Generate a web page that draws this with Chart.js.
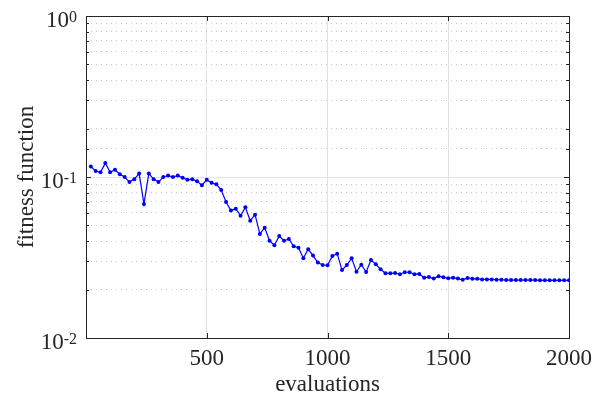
<!DOCTYPE html>
<html>
<head>
<meta charset="utf-8">
<script src="https://cdn.jsdelivr.net/npm/chart.js@4.4.1/dist/chart.umd.min.js"></script>
<style>
  html, body { margin: 0; padding: 0; background: #fff; }
  #wrap { width: 603px; height: 402px; }
</style>
</head>
<body>
<div id="wrap"><canvas id="fitChart" width="603" height="402"></canvas></div>
<script>
// x values of the samples
const evaluations = [
  20, 40, 60, 80, 100, 120, 140, 160, 180, 200,
  220, 240, 260, 280, 300, 320, 340, 360, 380, 400,
  420, 440, 460, 480, 500, 520, 540, 560, 580, 600,
  620, 640, 660, 680, 700, 720, 740, 760, 780, 800,
  820, 840, 860, 880, 900, 920, 940, 960, 980, 1000,
  1020, 1040, 1060, 1080, 1100, 1120, 1140, 1160, 1180, 1200,
  1220, 1240, 1260, 1280, 1300, 1320, 1340, 1360, 1380, 1400,
  1420, 1440, 1460, 1480, 1500, 1520, 1540, 1560, 1580, 1600,
  1620, 1640, 1660, 1680, 1700, 1720, 1740, 1760, 1780, 1800,
  1820, 1840, 1860, 1880, 1900, 1920, 1940, 1960, 1980, 2000
];

// fitness function value
const fitness = [
  0.116, 0.109, 0.107, 0.122, 0.107, 0.111, 0.104, 0.100, 0.093, 0.097,
  0.105, 0.068, 0.105, 0.097, 0.093, 0.100, 0.102, 0.100, 0.102, 0.099,
  0.096, 0.097, 0.094, 0.089, 0.096, 0.092, 0.090, 0.083, 0.070, 0.062,
  0.0636, 0.0575, 0.0648, 0.0535, 0.0583, 0.0443, 0.0484, 0.0402, 0.0377, 0.0430,
  0.0402, 0.0412, 0.0371, 0.0364, 0.0313, 0.0356, 0.0325, 0.0294, 0.0284, 0.0283,
  0.0323, 0.0334, 0.0264, 0.0284, 0.0313, 0.0258, 0.0285, 0.0257, 0.0305, 0.0287,
  0.0267, 0.0252, 0.0252, 0.0253, 0.0249, 0.0256, 0.0256, 0.0249, 0.0250, 0.0237,
  0.0239, 0.0234, 0.0242, 0.0238, 0.0235, 0.0237, 0.0234, 0.0230, 0.0236, 0.0233,
  0.0233, 0.0231, 0.0231, 0.0231, 0.0230, 0.0230, 0.0229, 0.0229, 0.0229, 0.0229,
  0.0229, 0.0229, 0.0229, 0.0228, 0.0228, 0.0228, 0.0228, 0.0228, 0.0228, 0.0228
];

const xTicks = [500, 1000, 1500, 2000];
const yDecades = [0.01, 0.1, 1];
const yTickLabels = [["10", "-2"], ["10", "-1"], ["10", "0"]];

const serif = '"Liberation Serif", "Times New Roman", serif';
const axisColor = "#262626";

function isDecade(v) {
  const e = Math.log10(v);
  return Math.abs(e - Math.round(e)) < 1e-6;
}

// box, inward tick marks and the 10^n labels, MATLAB style
const matlabAxes = {
  id: "matlabAxes",
  afterDraw(chart) {
    const ctx = chart.ctx;
    const area = chart.chartArea;
    const xs = chart.scales.x;
    const ys = chart.scales.y;
    ctx.save();
    ctx.strokeStyle = axisColor;
    ctx.lineWidth = 1;
    ctx.beginPath();
    xs.ticks.forEach(function(t) {
      const px = Math.round(xs.getPixelForValue(t.value)) + 0.5;
      ctx.moveTo(px, area.bottom);
      ctx.lineTo(px, area.bottom - 5);
      ctx.moveTo(px, area.top);
      ctx.lineTo(px, area.top + 5);
    });
    ys.ticks.forEach(function(t) {
      const py = Math.round(ys.getPixelForValue(t.value)) + 0.5;
      const len = isDecade(t.value) ? 5 : 3;
      ctx.moveTo(area.left, py);
      ctx.lineTo(area.left + len, py);
      ctx.moveTo(area.right, py);
      ctx.lineTo(area.right - len, py);
    });
    ctx.stroke();
    ctx.strokeRect(Math.round(area.left) + 0.5, Math.round(area.top) + 0.5,
      Math.round(area.right - area.left), Math.round(area.bottom - area.top));

    // y labels with superscript exponent
    ctx.fillStyle = axisColor;
    ctx.textAlign = "right";
    ctx.textBaseline = "alphabetic";
    yDecades.forEach(function(v, i) {
      const py = ys.getPixelForValue(v);
      const lab = yTickLabels[i];
      const xRight = area.left - 9;
      ctx.font = "16px " + serif;
      const expW = ctx.measureText(lab[1]).width;
      ctx.fillText(lab[1], xRight, py + 6);
      ctx.font = "23px " + serif;
      ctx.fillText(lab[0], xRight - expW, py + 11);
    });
    ctx.restore();
  }
};

const points = evaluations.map(function(e, i) {
  return { x: e, y: fitness[i] };
});

new Chart(document.getElementById("fitChart"), {
  type: "line",
  data: {
    datasets: [{
      data: points,
      borderColor: "#0000ff",
      backgroundColor: "#0000ff",
      borderWidth: 1.2,
      pointRadius: 2,
      pointBorderWidth: 0,
      pointBackgroundColor: "#0000ff",
      tension: 0
    }]
  },
  options: {
    responsive: false,
    animation: false,
    layout: { padding: { top: 16, right: 34, left: 0, bottom: 0 } },
    plugins: { legend: { display: false }, tooltip: { enabled: false } },
    scales: {
      x: {
        type: "linear",
        min: 0,
        max: 2000,
        afterBuildTicks: function(scale) {
          scale.ticks = xTicks.map(function(v) { return { value: v }; });
        },
        afterFit: function(scale) { scale.height = 64; },
        grid: { color: "#e2e2e2", drawTicks: false },
        border: { display: false },
        ticks: {
          font: { family: serif, size: 23 },
          color: axisColor,
          padding: 7,
          maxRotation: 0,
          autoSkip: false,
          callback: function(v) { return String(v); }
        },
        title: {
          display: true,
          text: "evaluations",
          font: { family: serif, size: 23 },
          color: axisColor,
          padding: { top: 0, bottom: 3 }
        }
      },
      y: {
        type: "logarithmic",
        min: 0.01,
        max: 1,
        afterFit: function(scale) { scale.width = 86; },
        grid: {
          drawTicks: false,
          color: function(c) {
            return c.tick && isDecade(c.tick.value) ? "#e2e2e2" : "#c8c8c8";
          }
        },
        border: {
          display: false,
          dash: function(c) {
            return c.tick && isDecade(c.tick.value) ? [] : [1, 4];
          }
        },
        ticks: { display: false },
        title: {
          display: true,
          text: "fitness function",
          font: { family: serif, size: 23 },
          color: axisColor,
          padding: { top: 13, bottom: 0 }
        }
      }
    }
  },
  plugins: [matlabAxes]
});
</script>
</body>
</html>
